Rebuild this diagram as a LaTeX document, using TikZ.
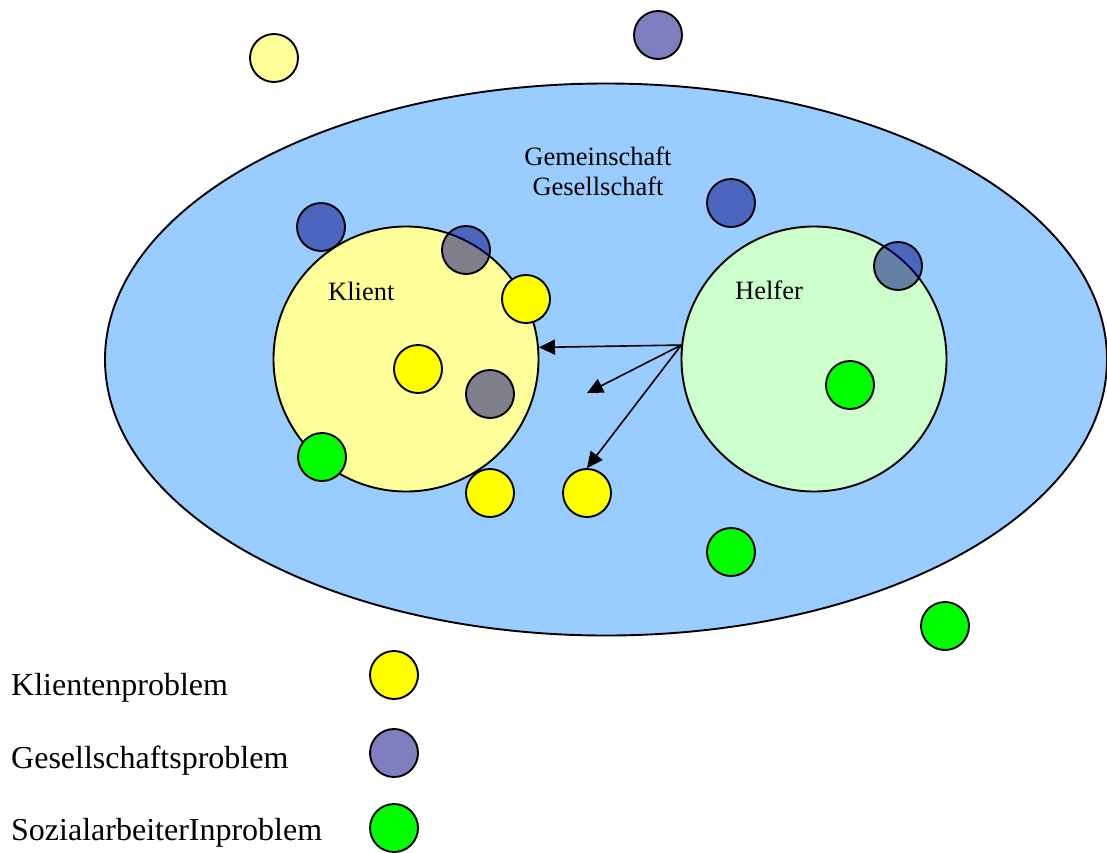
\documentclass[tikz,border=0pt]{standalone}
\usepackage{fontspec}
\setmainfont{Liberation Serif}
\usetikzlibrary{arrows.meta, positioning, shapes}

\definecolor{himmelblau}{RGB}{153,204,255}
\definecolor{hellgelb}{RGB}{255,255,153}
\definecolor{hellgruen}{RGB}{204,255,204}
\definecolor{navy}{RGB}{0,0,128}
\definecolor{gelb}{RGB}{255,255,0}
\definecolor{gruen}{RGB}{0,255,0}

\begin{document}
\begin{tikzpicture}[x=1pt,y=-1pt,>={Triangle[length=16pt,width=15pt]}]

		\tikzstyle{problem}=[circle,draw=black,line width=1.9pt,minimum size=48pt,inner sep=0pt]
		\tikzstyle{klientp}=[problem,fill=gelb]
		\tikzstyle{gesellp}=[problem,fill=navy,fill opacity=0.5]
		\tikzstyle{sozialp}=[problem,fill=gruen]
		\tikzstyle{bereich}=[circle,draw=black,line width=1.9pt,minimum size=265pt,inner sep=0pt]
		\tikzstyle{beschriftung}=[font=\fontsize{26.5}{30}\selectfont,inner sep=0pt]
		\tikzstyle{legende}=[anchor=base west,font=\fontsize{32}{36}\selectfont,inner sep=0pt]
		\tikzstyle{pfeil}=[->,line width=1.6pt]

		\useasboundingbox (0,0) rectangle (1107,852);

		% Gemeinschaft / Gesellschaft
		\node [ellipse, draw=black, line width=1.9pt, fill=himmelblau, inner sep=0pt,
			minimum width=1002pt, minimum height=552pt] (GG) at (606,359.5) {};
		\node [beschriftung, anchor=base] (GGa) at (598,165) {Gemeinschaft};
		\node [beschriftung, anchor=base] (GGb) at (598,195) {Gesellschaft};

		% Probleme ausserhalb
		\node [problem, fill=hellgelb] (k0) at (274,58) {};
		\node [gesellp] (g0) at (658,35) {};
		\node [sozialp] (s3) at (945,626) {};

		\node [gesellp] (g1) at (321,227) {};
		\node [gesellp] (g2) at (731,203) {};
		\node [sozialp] (s2) at (731,552) {};

		% Klient und Helfer
		\node [bereich, fill=hellgelb] (KL) at (406,359) {};
		\node [bereich, fill=hellgruen] (HE) at (814,359) {};
		\node [beschriftung, anchor=base west] (KLt) at (328,300) {Klient};
		\node [beschriftung, anchor=base west] (HEt) at (735,299) {Helfer};

		\node [gesellp] (g3) at (466,250) {};
		\node [klientp] (k1) at (526,299) {};
		\node [klientp] (k2) at (418,369) {};
		\node [gesellp] (g4) at (490,394) {};
		\node [sozialp] (s0) at (322,457) {};
		\node [klientp] (k3) at (490,493) {};
		\node [klientp] (k4) at (587,493) {};
		\node [gesellp] (g5) at (898,266) {};
		\node [sozialp] (s1) at (850,385) {};

		% Pfeile
		\coordinate (start) at (HE.174.8);
		\coordinate (leer) at (587,393);
		\draw [pfeil] (start) -- (KL.5.2);
		\draw [pfeil] (start) -- (leer);
		\draw [pfeil] (start) -- (k4.north);

		% Legende
		\node [legende] (L1) at (11,695) {Klientenproblem};
		\node [legende] (L2) at (11,768) {Gesellschaftsproblem};
		\node [legende] (L3) at (11,840) {SozialarbeiterInproblem};
		\node [klientp] (l1) at (394,675) {};
		\node [gesellp] (l2) at (394,753) {};
		\node [sozialp] (l3) at (394,828) {};
	\end{tikzpicture}
\end{document}
